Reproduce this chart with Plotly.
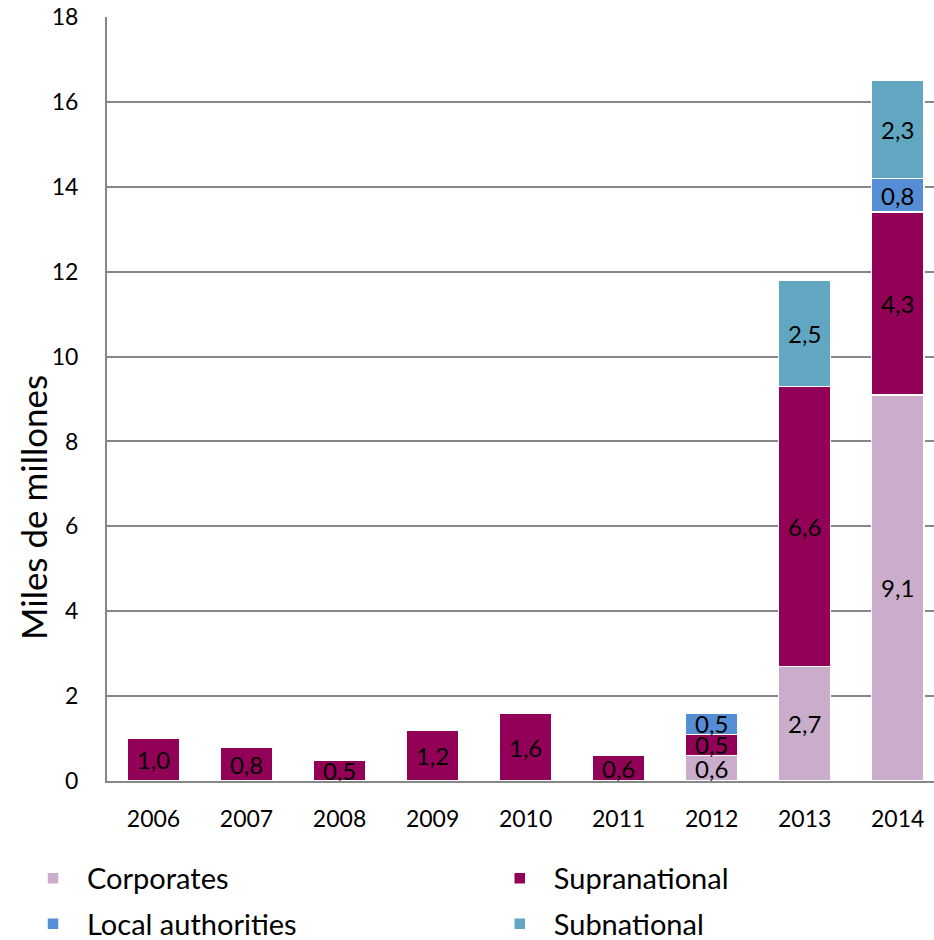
import plotly.graph_objects as go

years = ["2006", "2007", "2008", "2009", "2010", "2011", "2012", "2013", "2014"]
corporates = [None, None, None, None, None, None, 0.6, 2.7, 9.1]
supranational = [1.0, 0.8, 0.5, 1.2, 1.6, 0.6, 0.5, 6.6, 4.3]
local_authorities = [None, None, None, None, None, None, 0.5, None, 0.8]
subnational = [None, None, None, None, None, None, None, 2.5, 2.3]
y_ticks = [0, 2, 4, 6, 8, 10, 12, 14, 16, 18]

series = [
    ("Corporates", corporates, "#C9ADCB", "legend"),
    ("Supranational", supranational, "#930057", "legend2"),
    ("Local authorities", local_authorities, "#558ED5", "legend"),
    ("Subnational", subnational, "#62A7C2", "legend2"),
]

FONT = "Lato"

def fmt(v):
    return "" if v is None else f"{v:.1f}".replace(".", ",")

fig = go.Figure()
for i, (name, vals, color, leg) in enumerate(series):
    fig.add_trace(go.Bar(
        x=years, y=vals, name=name,
        marker=dict(color=color, line=dict(color="white", width=1.5)),
        width=0.56,
        text=[fmt(v) for v in vals],
        textposition="inside",
        insidetextanchor="middle",
        textangle=0,
        textfont=dict(family=FONT, size=24, color="black"),
        legend=leg,
        legendgroup=name,
    ))

fig.update_layout(
    width=934, height=940,
    margin=dict(l=107, r=0, t=17, b=159, autoexpand=False),
    barmode="stack",
    plot_bgcolor="white", paper_bgcolor="white",
    font=dict(family=FONT, color="black"),
    uniformtext=dict(minsize=24, mode="show"),
    xaxis=dict(
        type="category",
        range=[-0.5, 8.39],
        showgrid=False,
        showline=True, linecolor="#878787", linewidth=2,
        ticks="outside", ticklen=16, tickcolor="rgba(0,0,0,0)",
        tickfont=dict(family=FONT, size=23, color="black"),
    ),
    yaxis=dict(
        range=[0, 18],
        tickvals=y_ticks,
        showgrid=True, gridcolor="#878787", gridwidth=2,
        showline=True, linecolor="#878787", linewidth=2,
        zeroline=False,
        ticks="outside", ticklen=22, tickcolor="rgba(0,0,0,0)",
        tickfont=dict(family=FONT, size=23, color="black"),
    ),
    legend=dict(
        x=-0.1064, xanchor="left", y=-0.094, yanchor="top",
        orientation="v", itemwidth=58,
        traceorder="grouped", tracegroupgap=5,
        font=dict(family=FONT, size=29, color="black"),
        bgcolor="rgba(0,0,0,0)",
    ),
    legend2=dict(
        x=0.458, xanchor="left", y=-0.094, yanchor="top",
        orientation="v", itemwidth=58,
        traceorder="grouped", tracegroupgap=5,
        font=dict(family=FONT, size=29, color="black"),
        bgcolor="rgba(0,0,0,0)",
    ),
    annotations=[dict(
        text="Miles de millones", textangle=-90,
        xref="paper", yref="paper",
        x=(33 - 107) / 827, y=(781 - 508) / 764,
        xanchor="center", yanchor="middle", showarrow=False,
        font=dict(family=FONT, size=35, color="black"),
    )],
)

fig.write_html("out.html")
